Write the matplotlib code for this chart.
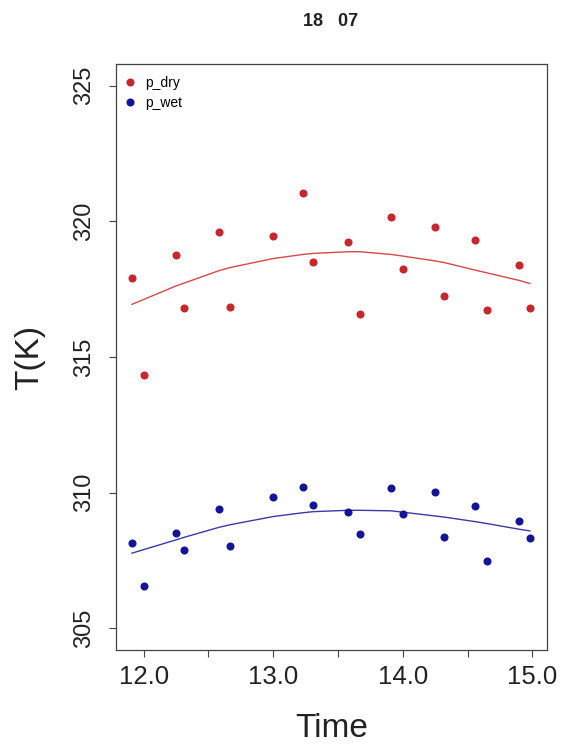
import matplotlib
matplotlib.use("Agg")
import matplotlib.pyplot as plt
from matplotlib.lines import Line2D

plt.rcParams['font.family'] = ['Liberation Sans', 'DejaVu Sans']

# observation times (hours)
time = [11.91, 12.0, 12.25, 12.31, 12.58, 12.67, 13.0, 13.23, 13.31, 13.58,
        13.67, 13.91, 14.0, 14.25, 14.32, 14.56, 14.65, 14.9, 14.98]

# measured temperatures (K)
p_dry = [317.92, 314.35, 318.76, 316.82, 319.59, 316.85, 319.47, 321.05, 318.49, 319.24,
         316.58, 320.16, 318.25, 319.79, 317.26, 319.30, 316.73, 318.40, 316.79]
p_wet = [308.14, 306.57, 308.53, 307.89, 309.40, 308.04, 309.85, 310.22, 309.54, 309.27,
         308.47, 310.16, 309.23, 310.04, 308.38, 309.52, 307.49, 308.95, 308.34]

# smoothed curves
fit_dry = [316.94, 317.12, 317.62, 317.72, 318.18, 318.30, 318.63, 318.78, 318.82, 318.88,
           318.88, 318.78, 318.72, 318.54, 318.48, 318.20, 318.10, 317.82, 317.71]
fit_wet = [307.77, 307.90, 308.26, 308.35, 308.72, 308.82, 309.12, 309.26, 309.30, 309.35,
           309.35, 309.33, 309.28, 309.14, 309.10, 308.93, 308.86, 308.65, 308.59]

x_ticks = [12.0, 12.5, 13.0, 13.5, 14.0, 14.5, 15.0]
x_labels = ['12.0', '', '13.0', '', '14.0', '', '15.0']
y_ticks = [305, 310, 315, 320, 325]

red = '#c8262c'
blue = '#14149a'

fig = plt.figure(figsize=(5.64, 7.45), dpi=100)
ax = fig.add_axes([0.2057, 0.1275, 0.9693 - 0.2057, 0.9141 - 0.1275])

ax.scatter(time, p_dry, s=23, color=red, zorder=3)
ax.scatter(time, p_wet, s=23, color=blue, zorder=3)
ax.plot(time, fit_dry, color='#d84848', lw=1.0)
ax.plot(time, fit_wet, color='#3a3aa8', lw=1.0)

ax.set_xlim(11.787, 15.11)
ax.set_ylim(304.2, 325.8)
ax.set_xticks(x_ticks)
ax.set_xticklabels(x_labels, fontsize=18.5, color='#222222')
ax.set_yticks(y_ticks)
ax.set_yticklabels([str(v) for v in y_ticks], fontsize=17, rotation=90,
                   va='center', color='#222222')
ax.tick_params(direction='out', length=5, width=0.8, color='#444444')
ax.tick_params(axis='x', pad=6)
ax.tick_params(axis='y', pad=10)
for sp in ax.spines.values():
    sp.set_color('#444444')
    sp.set_linewidth(0.9)

ax.set_xlabel('Time', fontsize=24, labelpad=17, color='#222222')
ax.set_ylabel('T(K)', fontsize=24, labelpad=20, color='#222222')

fig.text(0.5868, 0.971, '18   07', fontsize=13, fontweight='bold',
         ha='center', va='center', color='#222222')

handles = [Line2D([], [], ls='none', marker='o', ms=4.8, color=red),
           Line2D([], [], ls='none', marker='o', ms=4.8, color=blue)]
ax.legend(handles, ['p_dry', 'p_wet'], loc='upper left', bbox_to_anchor=(0.023, 0.979),
          frameon=False, fontsize=10, handlelength=0.6, handletextpad=0.8,
          labelspacing=0.4, borderaxespad=0, borderpad=0)

plt.savefig('out.png', dpi=100)
plt.close()
